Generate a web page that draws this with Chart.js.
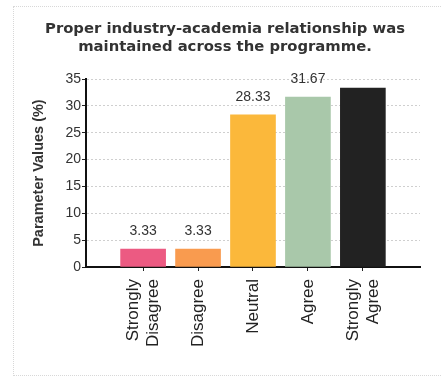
<!DOCTYPE html>
<html>
<head>
<meta charset="utf-8">
<script src="https://cdn.jsdelivr.net/npm/chart.js@4"></script>
<style>
  html, body { margin: 0; padding: 0; background: #fff; }
  #wrap { position: relative; width: 441px; height: 377px; }
  #frame {
    position: absolute; left: 13px; top: 6px; width: 440px; height: 368px;
    border: 1px dotted #d8d8d8;
  }
  canvas { position: absolute; left: 0; top: 0; }
</style>
</head>
<body>
<div id="wrap">
  <div id="frame"></div>
  <canvas id="chart" width="441" height="377"></canvas>
</div>
<script>
const categories = [["Strongly", "Disagree"], "Disagree", "Neutral", "Agree", ["Strongly", "Agree"]];
const values = [3.33, 3.33, 28.33, 31.67, 33.33];
const barColors = ["#ec5a82", "#f99b4f", "#fbb83b", "#a9c8aa", "#222222"];
const yTicks = [0, 5, 10, 15, 20, 25, 30, 35];

const labelFont = "'Liberation Sans', Arial, sans-serif";

// value labels above the bars; ones that would stick out of the plot are dropped
const barLabels = {
  id: "barLabels",
  afterDatasetsDraw(chart) {
    const ctx = chart.ctx;
    const area = chart.chartArea;
    const meta = chart.getDatasetMeta(0);
    ctx.save();
    ctx.font = "14px " + labelFont;
    ctx.fillStyle = "#333";
    ctx.textAlign = "center";
    ctx.textBaseline = "bottom";
    meta.data.forEach((bar, i) => {
      const base = bar.y - 11;
      if (base - 10 < area.top - 6) return;
      ctx.fillText(values[i].toFixed(2), bar.x, base);
    });
    ctx.restore();
  }
};

// rotated category labels, multi-line ones centred on their tick
const catLabels = {
  id: "catLabels",
  afterDraw(chart) {
    const ctx = chart.ctx;
    const xs = chart.scales.x;
    ctx.save();
    ctx.font = "17px " + labelFont;
    ctx.fillStyle = "#222";
    ctx.textAlign = "right";
    ctx.textBaseline = "middle";
    categories.forEach((c, i) => {
      const lines = Array.isArray(c) ? c : [c];
      const px = xs.getPixelForValue(i);
      lines.forEach((line, j) => {
        const off = (j - (lines.length - 1) / 2) * 20;
        ctx.save();
        ctx.translate(px + off, xs.top + 12);
        ctx.rotate(-Math.PI / 2);
        ctx.fillText(line, 0, 0);
        ctx.restore();
      });
    });
    ctx.restore();
  }
};

new Chart(document.getElementById("chart"), {
  type: "bar",
  data: {
    datasets: [{
      data: values.map((v, i) => ({x: i, y: v})),
      backgroundColor: barColors,
      borderWidth: 0,
      barThickness: 45
    }]
  },
  options: {
    responsive: false,
    devicePixelRatio: 1,
    animation: false,
    layout: {padding: {top: 20, left: 30, right: 21, bottom: 106}},
    plugins: {
      legend: {display: false},
      tooltip: {enabled: false},
      title: {
        display: true,
        text: ["Proper industry-academia relationship was", "maintained across the programme."],
        color: "#333",
        font: {family: "'DejaVu Sans', Verdana, sans-serif", size: 14.8, weight: "bold", lineHeight: 1.22},
        padding: {top: 0, bottom: 23}
      }
    },
    scales: {
      x: {
        type: "linear",
        offset: false,
        min: -1.04,
        max: 5.04,
        afterBuildTicks: (axis) => { axis.ticks = categories.map((c, i) => ({value: i})); },
        ticks: {display: false},
        grid: {display: true, offset: false, drawOnChartArea: false, drawTicks: true, tickLength: 4, color: "#222"},
        border: {display: true, color: "#111", width: 2}
      },
      y: {
        min: 0,
        max: 35,
        afterBuildTicks: (axis) => { axis.ticks = yTicks.map(v => ({value: v})); },
        ticks: {
          color: "#333",
          font: {family: labelFont, size: 14},
          padding: 1
        },
        grid: {color: "#cfcfcf", tickColor: "#222", tickLength: 4},
        border: {display: true, color: "#111", width: 2, dash: [2, 2]},
        title: {
          display: true,
          text: "Parameter Values (%)",
          color: "#333",
          font: {family: labelFont, size: 14.5, weight: "bold"},
          padding: {top: 0, bottom: 17}
        }
      }
    }
  },
  plugins: [barLabels, catLabels]
});
</script>
</body>
</html>
